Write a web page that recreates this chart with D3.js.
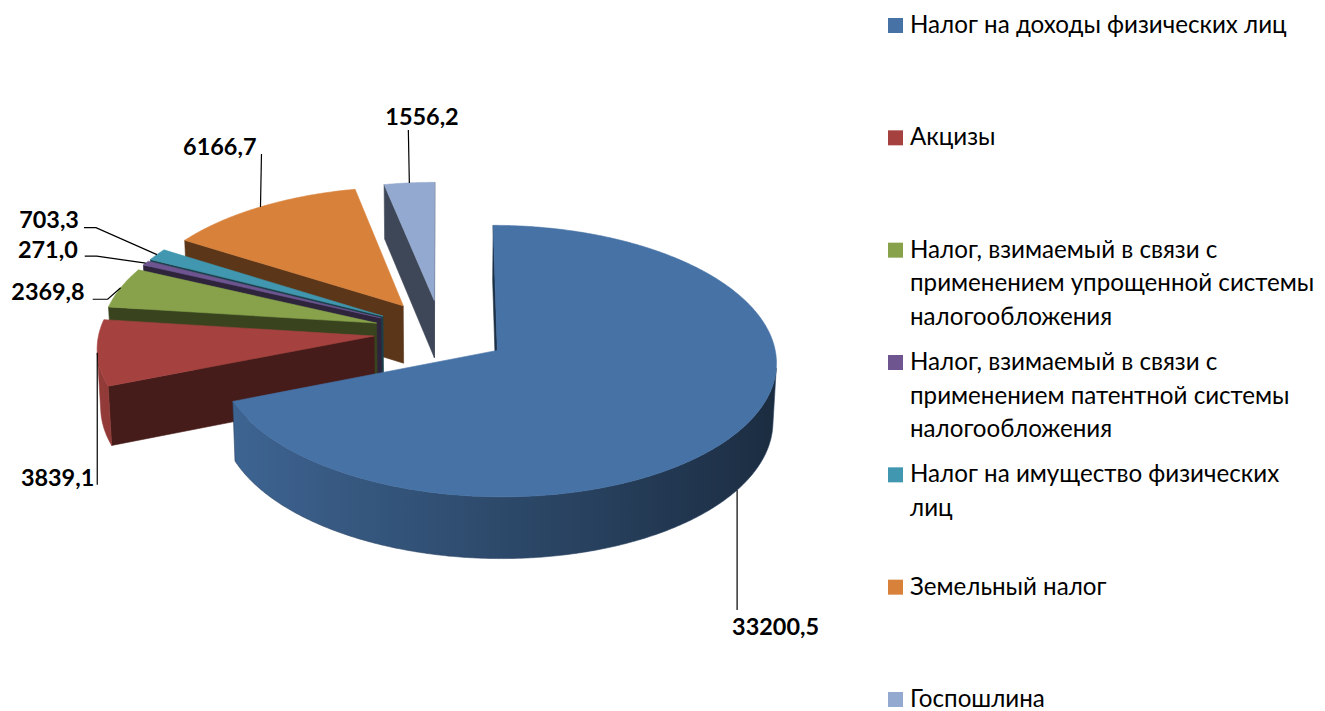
<!DOCTYPE html>
<html><head><meta charset="utf-8">
<script src="https://cdn.jsdelivr.net/npm/d3@7"></script>
<style>html,body{margin:0;padding:0;background:#fff;} svg{display:block}</style>
</head><body>
<svg id="chart" width="1325" height="711"></svg>
<script>
// ---------------- data ----------------
const categories = [
  "Налог на доходы физических лиц",
  "Акцизы",
  "Налог, взимаемый в связи с применением упрощенной системы налогообложения",
  "Налог, взимаемый в связи с применением патентной системы налогообложения",
  "Налог на имущество физических лиц",
  "Земельный налог",
  "Госпошлина"
];
const values = [33200.5, 3839.1, 2369.8, 271.0, 703.3, 6166.7, 1556.2];
const legendLines = [
  ["Налог на доходы физических лиц"],
  ["Акцизы"],
  ["Налог, взимаемый в связи с", "применением упрощенной системы", "налогообложения"],
  ["Налог, взимаемый в связи с", "применением патентной системы", "налогообложения"],
  ["Налог на имущество физических", "лиц"],
  ["Земельный налог"],
  ["Госпошлина"]
];
const colors = ["#4672A6", "#A5423F", "#87A24A", "#6E5590", "#4097AF", "#D8813B", "#93A9CF"];

// ---------------- layout ----------------
const CX = 441, CY = 332, F = 3090, DIST = 11.24, ALPHA = 28.7 * Math.PI / 180;
const THICK = 0.243, EXPLODE = 0.245;
const FONT = "Lato, Carlito, 'Noto Sans', sans-serif";
// leader/label layout relative to the anchor point on each slice
const labelLayout = [
  {z: -1, pts: [[0, 120]], text: [-5, 145], anchor: "start"},
  {z: 0, pts: [[0, 132]], text: [-3, 133], anchor: "end"},
  {z: 0, pts: [[-13, 11.5], [-28, 11.5]], text: [-36, 12.5], anchor: "end"},
  {z: 0, pts: [[-49, -7], [-61, -7]], text: [-68, -5], anchor: "end"},
  {z: 0, pts: [[-61, -27], [-73, -27]], text: [-78, -27], anchor: "end"},
  {z: 0, pts: [[1, -53]], text: [-4, -52], anchor: "end"},
  {z: 0, pts: [[-1, -53]], text: [-24, -58], anchor: "start"}
];

const svg = d3.select("#chart");
const defs = svg.append("defs");
const fmt = d3.formatLocale({decimal: ",", thousands: "", grouping: [3], currency: ["", ""]}).format(".1f");

function fitSize(text, weight, target) {
  const t = svg.append("text").attr("font-family", FONT).attr("font-weight", weight)
    .attr("font-size", 100).text(text);
  const w = t.node().getComputedTextLength();
  t.remove();
  return 100 * target / w;
}

const sA = Math.sin(ALPHA), cA = Math.cos(ALPHA);
const cam = [0, -DIST * cA, DIST * sA];
function proj(X, Y, Z) {
  const up = Y * sA + Z * cA, dep = DIST + Y * cA - Z * sA;
  return {x: CX + F * X / dep, y: CY - F * up / dep, d: dep};
}
function shade(c, k) {
  const b = d3.rgb(c);
  return d3.rgb(b.r * k, b.g * k, b.b * k).formatHex();
}
const wallK = t => 0.64 - 0.26 * Math.sin(t);

const arcs = d3.pie().sort(null).value(d => d)(values);
const sides = [], tops = [], anchors = [];
const STEP = Math.PI / 360;
let gid = 0;

arcs.forEach((a, i) => {
  const a0 = a.startAngle, a1 = a.endAngle, m = (a0 + a1) / 2;
  const ox = EXPLODE * Math.sin(m), oy = EXPLODE * Math.cos(m);
  const P = (r, t, z) => proj(ox + r * Math.sin(t), oy + r * Math.cos(t), z);
  const n = Math.max(2, Math.ceil((a1 - a0) / STEP));
  const ts = d3.range(n + 1).map(k => a0 + (a1 - a0) * k / n);
  const apexT = P(0, 0, 0), apexB = P(0, 0, -THICK);
  tops.push({pts: [apexT, ...ts.map(t => P(1, t, 0))], fill: colors[i]});

  // outer wall: visible runs
  const vis = ts.map(t => {
    const px = ox + Math.sin(t), py = oy + Math.cos(t);
    return Math.sin(t) * (cam[0] - px) + Math.cos(t) * (cam[1] - py) > 0;
  });
  let run = [];
  const flush = () => {
    if (run.length > 1) {
      const topP = run.map(t => P(1, t, 0));
      const botP = run.map(t => P(1, t, -THICK)).reverse();
      const pts = topP.concat(botP);
      const xs = pts.map(p => p.x);
      const x0 = d3.min(xs), x1 = d3.max(xs);
      const id = "wg" + (gid++);
      const stops = run.filter((t, k) => k % 4 === 0 || k === run.length - 1)
        .map(t => ({o: (P(1, t, 0).x - x0) / Math.max(1e-6, x1 - x0), c: shade(colors[i], wallK(t))}))
        .sort((p, q) => p.o - q.o);
      const g = defs.append("linearGradient").attr("id", id).attr("gradientUnits", "userSpaceOnUse")
        .attr("x1", x0).attr("x2", x1).attr("y1", 0).attr("y2", 0);
      stops.forEach(s => g.append("stop").attr("offset", Math.min(1, Math.max(0, s.o))).attr("stop-color", s.c));
      sides.push({pts, fill: `url(#${id})`, stroke: shade(colors[i], wallK(run[Math.floor(run.length / 2)])), d: d3.mean(pts, p => p.d)});
    }
    run = [];
  };
  ts.forEach((t, k) => { if (vis[k]) run.push(t); else flush(); });
  flush();

  // radial cut faces
  const dark = shade(colors[i], 0.42);
  const nS = [-Math.cos(a0), Math.sin(a0)];
  if (nS[0] * (cam[0] - ox) + nS[1] * (cam[1] - oy) > 0) {
    const pts = [apexT, P(1, a0, 0), P(1, a0, -THICK), apexB];
    sides.push({pts, fill: dark, stroke: dark, d: d3.mean(pts, p => p.d)});
  }
  const nE = [Math.cos(a1), -Math.sin(a1)];
  if (nE[0] * (cam[0] - ox) + nE[1] * (cam[1] - oy) > 0) {
    const pts = [apexT, P(1, a1, 0), P(1, a1, -THICK), apexB];
    sides.push({pts, fill: dark, stroke: dark, d: d3.mean(pts, p => p.d)});
  }
  anchors.push(P(1, m, labelLayout[i].z * THICK));
});

const line = d3.line().x(p => p.x).y(p => p.y);
const pieG = svg.append("g");
sides.sort((p, q) => q.d - p.d);
pieG.selectAll("path.side").data(sides).join("path").attr("class", "side")
  .attr("d", d => line(d.pts) + "Z").attr("fill", d => d.fill)
  .attr("stroke", d => d.stroke).attr("stroke-width", 0.6).attr("stroke-linejoin", "round");
pieG.selectAll("path.top").data(tops).join("path").attr("class", "top")
  .attr("d", d => line(d.pts) + "Z").attr("fill", d => d.fill)
  .attr("stroke", d => d.fill).attr("stroke-width", 0.6).attr("stroke-linejoin", "round");

// ---------------- labels ----------------
const labelSize = fitSize(fmt(values[0]), "bold", 87);
const lblG = svg.append("g");
anchors.forEach((an, i) => {
  const L = labelLayout[i];
  const pts = [[an.x, an.y], ...L.pts.map(p => [an.x + p[0], an.y + p[1]])];
  lblG.append("path").attr("d", d3.line()(pts)).attr("fill", "none")
    .attr("stroke", "#000").attr("stroke-width", 1.2);
  lblG.append("text").attr("x", an.x + L.text[0]).attr("y", an.y + L.text[1])
    .attr("text-anchor", L.anchor).attr("font-family", FONT).attr("font-weight", "bold")
    .attr("font-size", labelSize).attr("fill", "#000").text(fmt(values[i]));
});

// ---------------- legend ----------------
const legSize = fitSize(legendLines[0][0], "normal", 377);
const legY = d3.scaleLinear().domain([0, categories.length - 1]).range([18, 692]);
const legG = svg.append("g");
categories.forEach((c, i) => {
  const y0 = legY(i);
  legG.append("rect").attr("x", 888).attr("y", y0).attr("width", 15).attr("height", 15).attr("fill", colors[i]);
  const t = legG.append("text").attr("font-family", FONT).attr("font-size", legSize).attr("fill", "#000");
  legendLines[i].forEach((ln, k) => {
    t.append("tspan").attr("x", 910).attr("y", y0 + 15 + k * 33.5).text(ln);
  });
});
</script>
</body></html>
